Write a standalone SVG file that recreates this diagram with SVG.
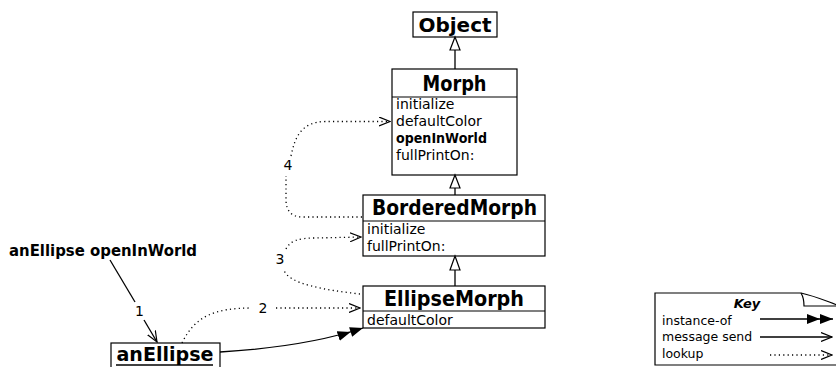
<svg xmlns="http://www.w3.org/2000/svg" width="836" height="367" viewBox="0 0 836 367">
<style>
  .box { fill: #fff; stroke: #000; stroke-width: 1.2; }
  .sep { stroke: #000; stroke-width: 1.2; }
  .title { font-family: "DejaVu Sans", sans-serif; font-weight: bold; text-anchor: middle; fill: #000; }
  .meth { font-family: "DejaVu Sans", sans-serif; font-size: 14px; fill: #000; }
  .num { font-family: "DejaVu Sans", sans-serif; font-size: 14px; text-anchor: middle; fill: #000; }
  .keyt { font-family: "DejaVu Sans", sans-serif; font-size: 12.5px; fill: #000; }
  .line { fill: none; stroke: #000; stroke-width: 1.3; }
  .dot { fill: none; stroke: #000; stroke-width: 1.3; stroke-dasharray: 1.2 3.2; }
  .tri { fill: #fff; stroke: #000; stroke-width: 1.2; }
</style>
<defs>
  <marker id="open" markerUnits="userSpaceOnUse" viewBox="0 0 12 10" refX="11" refY="5" markerWidth="12" markerHeight="10" orient="auto">
    <path d="M0,0.5 L11,5 L0,9.5" fill="none" stroke="#000" stroke-width="1.2"/>
  </marker>
  <marker id="dbl" markerUnits="userSpaceOnUse" viewBox="0 0 26 10" refX="26" refY="5" markerWidth="26" markerHeight="10" orient="auto">
    <path d="M0,0 L13,5 L0,10 Z M13,0 L26,5 L13,10 Z" fill="#000"/>
  </marker>
</defs>

<g id="Object">
  <rect class="box" x="413" y="12" width="84" height="25"/>
  <text class="title" x="455" y="32" font-size="20" textLength="73" lengthAdjust="spacingAndGlyphs">Object</text>
</g>

<g id="Morph">
  <rect class="box" x="392" y="69" width="125" height="106"/>
  <line class="sep" x1="392" y1="97" x2="517" y2="97"/>
  <text class="title" x="454.5" y="91" font-size="21" textLength="64" lengthAdjust="spacingAndGlyphs">Morph</text>
  <text class="meth" x="396" y="109">initialize</text>
  <text class="meth" x="396" y="126">defaultColor</text>
  <text class="meth" x="396" y="143" font-weight="bold" textLength="91" lengthAdjust="spacingAndGlyphs">openInWorld</text>
  <text class="meth" x="396" y="160">fullPrintOn:</text>
</g>

<g id="BorderedMorph">
  <rect class="box" x="363" y="195" width="182" height="61"/>
  <line class="sep" x1="363" y1="221" x2="545" y2="221"/>
  <text class="title" x="454.5" y="215" font-size="21" textLength="165" lengthAdjust="spacingAndGlyphs">BorderedMorph</text>
  <text class="meth" x="367" y="234">initialize</text>
  <text class="meth" x="367" y="251">fullPrintOn:</text>
</g>

<g id="EllipseMorph">
  <rect class="box" x="363" y="286" width="182" height="42"/>
  <line class="sep" x1="363" y1="311" x2="545" y2="311"/>
  <text class="title" x="454" y="306" font-size="21" textLength="140" lengthAdjust="spacingAndGlyphs">EllipseMorph</text>
  <text class="meth" x="367" y="325">defaultColor</text>
</g>

<g id="anEllipse">
  <rect class="box" x="111" y="343" width="109" height="30"/>
  <text class="title" x="165" y="361" font-size="20" textLength="97" lengthAdjust="spacingAndGlyphs">anEllipse</text>
  <line x1="116" y1="365" x2="213" y2="365" stroke="#000" stroke-width="1.5"/>
</g>

<g id="message">
  <text x="9" y="256" font-family="DejaVu Sans, sans-serif" font-size="15" font-weight="bold" textLength="188" lengthAdjust="spacingAndGlyphs">anEllipse openInWorld</text>
</g>

<g id="connectors">
  <line class="line" x1="455" y1="50" x2="455" y2="69"/>
  <polygon class="tri" points="455,37 460,50 450,50"/>
  <line class="line" x1="455" y1="188" x2="455" y2="195"/>
  <polygon class="tri" points="455,175 460,188 450,188"/>
  <line class="line" x1="455" y1="270" x2="455" y2="286"/>
  <polygon class="tri" points="455,256 460,270 450,270"/>

  <line class="line" x1="110" y1="260" x2="135" y2="302"/>
  <line class="line" x1="144" y1="320" x2="157" y2="342" marker-end="url(#open)"/>
  <text class="num" x="139.5" y="316">1</text>

  <path class="dot" d="M182,343 C195,316 215,308 252,308"/>
  <path class="dot" d="M276,308 L360,308" marker-end="url(#open)"/>
  <text class="num" x="263" y="313">2</text>

  <path class="dot" d="M360,294 C325,290 288,284 284,270"/>
  <path class="dot" d="M286,249 C290,241 298,238 315,238 L361,237" marker-end="url(#open)"/>
  <text class="num" x="280" y="264">3</text>

  <path class="dot" d="M362,217 L302,217 C292,217 286,211 286,200 L286,176"/>
  <path class="dot" d="M291,156 C295,136 302,122 325,121.5 L390,121.5" marker-end="url(#open)"/>
  <text class="num" x="288" y="170">4</text>

  <path class="line" d="M220,352 C270,349 320,342 363,328" marker-end="url(#dbl)"/>
</g>

<g id="key">
  <path d="M655,293 L801,293 C815,296 826,301 840,306 L840,365 L655,365 Z" fill="#fff" stroke="#000" stroke-width="1.2"/>
  <path d="M801,293 C804,298 804,302 804,306 L840,306" fill="none" stroke="#000" stroke-width="1.2"/>
  <text x="747" y="308" font-family="DejaVu Sans, sans-serif" font-size="13" font-weight="bold" font-style="italic" text-anchor="middle">Key</text>
  <text class="keyt" x="662" y="325">instance-of</text>
  <text class="keyt" x="662" y="341">message send</text>
  <text class="keyt" x="662" y="358">lookup</text>
  <line class="line" x1="760" y1="319" x2="833" y2="319" marker-end="url(#dbl)"/>
  <line class="line" x1="760" y1="337" x2="832" y2="337" marker-end="url(#open)"/>
  <line class="dot" x1="770" y1="355" x2="832" y2="355" marker-end="url(#open)"/>
</g>
</svg>
